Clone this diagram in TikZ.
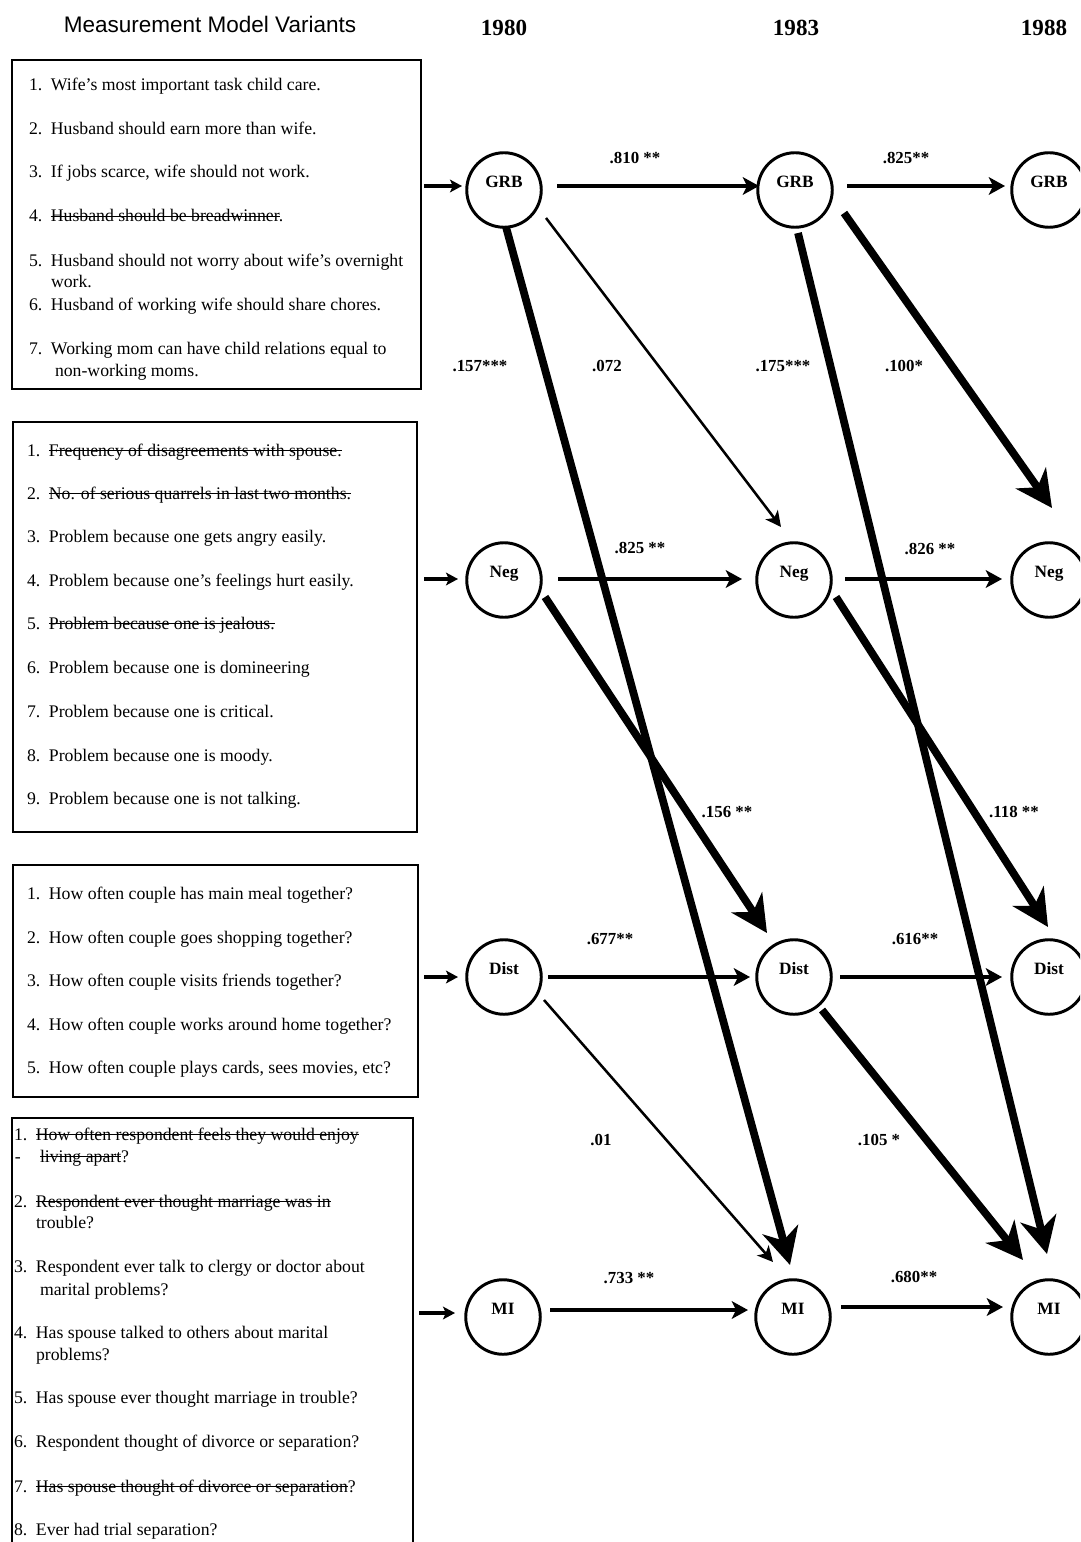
\documentclass[tikz,border=0pt]{standalone}
\usepackage{fontspec}
\setmainfont{Liberation Serif}
\setsansfont{Liberation Sans}
\usetikzlibrary{arrows.meta,calc,fit}

% numbered questionnaire line: fixed-width number column, then the item text
\newcommand{\itm}[2]{\makebox[15.6pt][l]{#1}#2}
% struck-out (dropped) indicator text
\newlength{\strklen}
\newcommand{\strk}[1]{\settowidth{\strklen}{#1}\rlap{\rule[0.27em]{\strklen}{0.9pt}}#1}

\begin{document}
\begin{tikzpicture}[x=0.025cm,y=-0.025cm,
  every node/.style={inner sep=0pt,outer sep=0pt},
  item/.style={anchor=base west,font=\fontsize{12.6}{14}\selectfont},
  listbox/.style={draw,line width=1.4pt,inner sep=0pt},
  latent/.style={circle,draw,line width=2.1pt,minimum size=53pt,
    font=\bfseries\fontsize{12.3}{14}\selectfont,text height=4pt,text depth=7.5pt},
  coef/.style={font=\bfseries\fontsize{12}{14}\selectfont},
  year/.style={font=\bfseries\fontsize{16.4}{18}\selectfont},
  stable/.style={line width=2.8pt,-{Stealth[length=11.5pt,width=12.5pt,inset=3pt]}},
  feed/.style={line width=2.4pt,-{Stealth[length=8.5pt,width=9pt,inset=2pt]}},
  weak/.style={line width=1.8pt,-{Stealth[length=11pt,width=11pt,inset=3pt]}},
  strong/.style={line width=5.5pt,-{Stealth[length=26pt,width=26pt,inset=8pt]}},
]
\useasboundingbox (0,0) rectangle (1080,1542);
\clip (0,0) rectangle (1080,1542);

% headings
\node[font=\sffamily\fontsize{16}{18}\selectfont] (title) at (210,24) {Measurement Model Variants};
\node[year] (y1980) at (504,28) {1980};
\node[year] (y1983) at (796,28) {1983};
\node[year] (y1988) at (1044,28) {1988};

% ---------- indicator lists ----------
\node[listbox,fit={(12,60) (421,389)}] (box1) {};
\node[item] (b1l1) at (29,91) {\itm{1.}{Wife's most important task child care.}};
\node[item] (b1l2) at (29,135) {\itm{2.}{Husband should earn more than wife.}};
\node[item] (b1l3) at (29,178) {\itm{3.}{If jobs scarce, wife should not work.}};
\node[item] (b1l4) at (29,222) {\itm{4.}{\strk{Husband should be breadwinner}.}};
\node[item] (b1l5) at (29,267) {\itm{5.}{Husband should not worry about wife's overnight}};
\node[item] (b1l5b) at (51,288) {work.};
\node[item] (b1l6) at (29,311) {\itm{6.}{Husband of working wife should share chores.}};
\node[item] (b1l7) at (29,355) {\itm{7.}{Working mom can have child relations equal to}};
\node[item] (b1l7b) at (55,377) {non-working moms.};

\node[listbox,fit={(13,422) (417,832)}] (box2) {};
\node[item] (b2l1) at (27,456) {\itm{1.}{\strk{Frequency of disagreements with spouse.}}};
\node[item] (b2l2) at (27,499) {\itm{2.}{\strk{No. of serious quarrels in last two months.}}};
\node[item] (b2l3) at (27,542) {\itm{3.}{Problem because one gets angry easily.}};
\node[item] (b2l4) at (27,586) {\itm{4.}{Problem because one's feelings hurt easily.}};
\node[item] (b2l5) at (27,629) {\itm{5.}{\strk{Problem because one is jealous.}}};
\node[item] (b2l6) at (27,673) {\itm{6.}{Problem because one is domineering}};
\node[item] (b2l7) at (27,717) {\itm{7.}{Problem because one is critical.}};
\node[item] (b2l8) at (27,761) {\itm{8.}{Problem because one is moody.}};
\node[item] (b2l9) at (27,804) {\itm{9.}{Problem because one is not talking.}};

\node[listbox,fit={(13,865) (418,1097)}] (box3) {};
\node[item] (b3l1) at (27,899) {\itm{1.}{How often couple has main meal together?}};
\node[item] (b3l2) at (27,943) {\itm{2.}{How often couple goes shopping together?}};
\node[item] (b3l3) at (27,986) {\itm{3.}{How often couple visits friends together?}};
\node[item] (b3l4) at (27,1030) {\itm{4.}{How often couple works around home together?}};
\node[item] (b3l5) at (27,1073) {\itm{5.}{How often couple plays cards, sees movies, etc?}};

% last list runs off the bottom edge: only three sides are drawn
\node[fit={(12,1118) (413,1560)}] (box4) {};
\draw[line width=1.4pt] (box4.south west) |- (box4.north east) -- (box4.south east);
\node[item] (b4l1) at (14,1140) {\itm{1.}{\strk{How often respondent feels they would enjoy}}};
\node[item] (b4l1d) at (15,1162) {-};
\node[item] (b4l1b) at (40,1162) {\strk{living apart}?};
\node[item] (b4l2) at (14,1207) {\itm{2.}{\strk{Respondent ever thought marriage was in}}};
\node[item] (b4l2b) at (36,1228) {trouble?};
\node[item] (b4l3) at (14,1272) {\itm{3.}{Respondent ever talk to clergy or doctor about}};
\node[item] (b4l3b) at (40,1295) {marital problems?};
\node[item] (b4l4) at (14,1338) {\itm{4.}{Has spouse talked to others about marital}};
\node[item] (b4l4b) at (36,1360) {problems?};
\node[item] (b4l5) at (14,1403) {\itm{5.}{Has spouse ever thought marriage in trouble?}};
\node[item] (b4l6) at (14,1447) {\itm{6.}{Respondent thought of divorce or separation?}};
\node[item] (b4l7) at (14,1492) {\itm{7.}{\strk{Has spouse thought of divorce or separation}?}};
\node[item] (b4l8) at (14,1535) {\itm{8.}{Ever had trial separation?}};

% ---------- latent constructs, three waves ----------
\node[latent] (g1) at (504,190) {GRB};
\node[latent] (g2) at (795,190) {GRB};
\node[latent] (g3) at (1049,190) {GRB};
\node[latent] (n1) at (504,580) {Neg};
\node[latent] (n2) at (794,580) {Neg};
\node[latent] (n3) at (1049,580) {Neg};
\node[latent] (d1) at (504,977) {Dist};
\node[latent] (d2) at (794,977) {Dist};
\node[latent] (d3) at (1049,977) {Dist};
\node[latent] (m1) at (503,1317) {MI};
\node[latent] (m2) at (793,1317) {MI};
\node[latent] (m3) at (1049,1317) {MI};

% measurement inputs
\draw[feed] ($(box1.east |- g1)+(3,-4)$) -- ($(g1)+(-42,-4)$);
\draw[feed] ($(box2.east |- n1)+(7,-1)$) -- ($(n1)+(-46,-1)$);
\draw[feed] ($(box3.east |- d1)+(6,0)$) -- ($(d1)+(-46,0)$);
\draw[feed] ($(box4.east |- m1)+(6,-4)$) -- ($(m1)+(-48,-4)$);

% stability paths
\draw[stable] ($(g1)+(53,-4)$) -- ($(g2)+(-36,-4)$);
\draw[stable] ($(g2)+(52,-4)$) -- ($(g3)+(-44,-4)$);
\draw[stable] ($(n1)+(54,-1)$) -- ($(n2)+(-52,-1)$);
\draw[stable] ($(n2)+(51,-1)$) -- ($(n3)+(-47,-1)$);
\draw[stable] ($(d1)+(44,0)$) -- ($(d2)+(-44,0)$);
\draw[stable] ($(d2)+(46,0)$) -- ($(d3)+(-47,0)$);
\draw[stable] ($(m1)+(47,-7)$) -- ($(m2)+(-45,-7)$);
\draw[stable] ($(m2)+(48,-10)$) -- ($(m3)+(-46,-10)$);

% cross-lagged paths
\draw[strong] ($(g1)+(2,37)$) -- ($(m2)+(-3,-52)$);
\draw[weak]   ($(g1)+(42,28)$) -- ($(n2)+(-13,-53)$);
\draw[strong] ($(g2)+(3,43)$) -- ($(m3)+(-2,-63)$);
\draw[strong] ($(g2)+(49,23)$) -- ($(n3)+(3,-72)$);
\draw[strong] ($(n1)+(41,17)$) -- ($(d2)+(-27,-44)$);
\draw[strong] ($(n2)+(42,17)$) -- ($(d3)+(-1,-50)$);
\draw[weak]   ($(d1)+(40,23)$) -- ($(m2)+(-20,-55)$);
\draw[strong] ($(d2)+(28,33)$) -- ($(m3)+(-26,-57)$);

% path coefficients
\node[coef] (c1) at (635,158) {.810 **};
\node[coef] (c2) at (906,158) {.825**};
\node[coef] (c3) at (480,366) {.157***};
\node[coef] (c4) at (607,366) {.072};
\node[coef] (c5) at (783,366) {.175***};
\node[coef] (c6) at (904,366) {.100*};
\node[coef] (c7) at (640,548) {.825 **};
\node[coef] (c8) at (930,549) {.826 **};
\node[coef] (c9) at (727,812) {.156 **};
\node[coef] (c10) at (1014,812) {.118 **};
\node[coef] (c11) at (610,939) {.677**};
\node[coef] (c12) at (915,939) {.616**};
\node[coef] (c13) at (601,1140) {.01};
\node[coef] (c14) at (879,1140) {.105 *};
\node[coef] (c15) at (629,1278) {.733 **};
\node[coef] (c16) at (914,1277) {.680**};
\end{tikzpicture}
\end{document}
